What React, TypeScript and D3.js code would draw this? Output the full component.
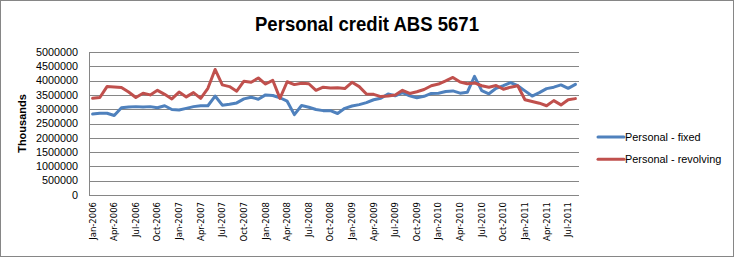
import React from "react";
import * as d3 from "d3";

const title = "Personal credit ABS 5671";
const yAxisTitle = "Thousands";
const seriesNames = ["Personal - fixed", "Personal - revolving"];
const seriesColors = ["#4F81BD", "#C0504D"];

// Monthly categories Jan-2006 .. Aug-2011
const fmt = d3.timeFormat("%b-%Y");
const months: string[] = d3.timeMonth
  .range(new Date(2006, 0, 1), new Date(2011, 8, 1))
  .map((d) => fmt(d));

const tickLabels = [
  "Jan-2006", "Apr-2006", "Jul-2006", "Oct-2006",
  "Jan-2007", "Apr-2007", "Jul-2007", "Oct-2007",
  "Jan-2008", "Apr-2008", "Jul-2008", "Oct-2008",
  "Jan-2009", "Apr-2009", "Jul-2009", "Oct-2009",
  "Jan-2010", "Apr-2010", "Jul-2010", "Oct-2010",
  "Jan-2011", "Apr-2011", "Jul-2011",
];

const yTicks = [0, 500000, 1000000, 1500000, 2000000, 2500000, 3000000, 3500000, 4000000, 4500000, 5000000];

const fixed = [
  2830000, 2860000, 2860000, 2780000, 3050000, 3080000, 3090000, 3080000, 3090000, 3050000, 3120000, 2990000,
  2970000, 3030000, 3090000, 3120000, 3120000, 3460000, 3140000, 3170000, 3220000, 3360000, 3420000, 3350000,
  3500000, 3480000, 3400000, 3280000, 2810000, 3130000, 3070000, 2990000, 2950000, 2950000, 2850000, 3030000,
  3110000, 3160000, 3230000, 3330000, 3380000, 3530000, 3470000, 3580000, 3470000, 3400000, 3450000, 3550000,
  3560000, 3620000, 3640000, 3560000, 3590000, 4150000, 3650000, 3540000, 3730000, 3820000, 3930000, 3820000,
  3640000, 3460000, 3580000, 3720000, 3770000, 3850000, 3730000, 3870000,
];

const revolving = [
  3380000, 3410000, 3790000, 3780000, 3760000, 3600000, 3410000, 3560000, 3500000, 3660000, 3520000, 3360000,
  3600000, 3430000, 3580000, 3380000, 3730000, 4390000, 3850000, 3790000, 3630000, 3980000, 3940000, 4090000,
  3880000, 4010000, 3380000, 3960000, 3860000, 3910000, 3890000, 3660000, 3770000, 3740000, 3750000, 3720000,
  3940000, 3790000, 3530000, 3520000, 3440000, 3460000, 3500000, 3660000, 3550000, 3610000, 3690000, 3820000,
  3880000, 3990000, 4110000, 3950000, 3890000, 3920000, 3820000, 3770000, 3830000, 3700000, 3770000, 3820000,
  3330000, 3270000, 3210000, 3120000, 3300000, 3150000, 3330000, 3370000,
];

const W = 735;
const H = 258;
const plot = { left: 89, right: 579, top: 52, bottom: 195 };
const labelFont = "'Liberation Sans', Arial, sans-serif";
const tickFont = "'DejaVu Sans', Verdana, sans-serif";

export default function App() {
  const x = d3.scaleBand<string>().domain(months).range([plot.left, plot.right]).padding(0);
  const cx = (m: string) => (x(m) as number) + x.bandwidth() / 2;
  const y = d3.scaleLinear().domain([0, 5000000]).range([plot.bottom, plot.top]);

  const line = d3
    .line<number>()
    .x((_, i) => cx(months[i]))
    .y((d) => y(d));

  const series = [fixed, revolving];

  return (
    <svg
      width={W}
      height={H}
      style={{ position: "absolute", left: 0, top: 0, background: "#fff" }}
    >
      <rect x={0.5} y={0.5} width={W - 2} height={H - 2} fill="#fff" stroke="#868686" />
      <text
        x={367}
        y={31}
        textAnchor="middle"
        fontFamily={labelFont}
        fontWeight="bold"
        fontSize={19.5}
        textLength={224}
        lengthAdjust="spacingAndGlyphs"
        fill="#000"
      >
        {title}
      </text>

      {yTicks.map((t) => (
        <g key={t}>
          <line
            x1={plot.left}
            x2={plot.right}
            y1={Math.round(y(t)) + 0.5}
            y2={Math.round(y(t)) + 0.5}
            stroke="#868686"
            strokeWidth={1}
          />
          <text
            x={78}
            y={y(t)}
            dy="0.35em"
            textAnchor="end"
            fontFamily={labelFont}
            fontSize={10.8}
            fill="#000"
          >
            {t}
          </text>
        </g>
      ))}
      <line x1={plot.left + 0.5} x2={plot.left + 0.5} y1={plot.top} y2={plot.bottom} stroke="#868686" />

      <text
        transform={`translate(26,${(plot.top + plot.bottom) / 2}) rotate(-90)`}
        textAnchor="middle"
        fontFamily={labelFont}
        fontWeight="bold"
        fontSize={11}
        fill="#000"
      >
        {yAxisTitle}
      </text>

      {tickLabels.map((lab) => (
        <text
          key={lab}
          transform={`translate(${cx(lab)},202) rotate(-90)`}
          textAnchor="end"
          dy="0.35em"
          fontFamily={tickFont}
          fontSize={8.5}
          fill="#000"
        >
          {lab}
        </text>
      ))}

      {series.map((s, k) => (
        <path
          key={k}
          d={line(s) || ""}
          fill="none"
          stroke={seriesColors[k]}
          strokeWidth={3}
          strokeLinejoin="round"
          strokeLinecap="round"
        />
      ))}

      {seriesNames.map((name, k) => {
        const ly = 137 + k * 22.3;
        return (
          <g key={name}>
            <line x1={598} x2={624} y1={ly} y2={ly} stroke={seriesColors[k]} strokeWidth={3} strokeLinecap="round" />
            <text
              x={625}
              y={ly}
              dy="0.35em"
              fontFamily={labelFont}
              fontSize={10.9}
              fill="#000"
            >
              {name}
            </text>
          </g>
        );
      })}
    </svg>
  );
}
